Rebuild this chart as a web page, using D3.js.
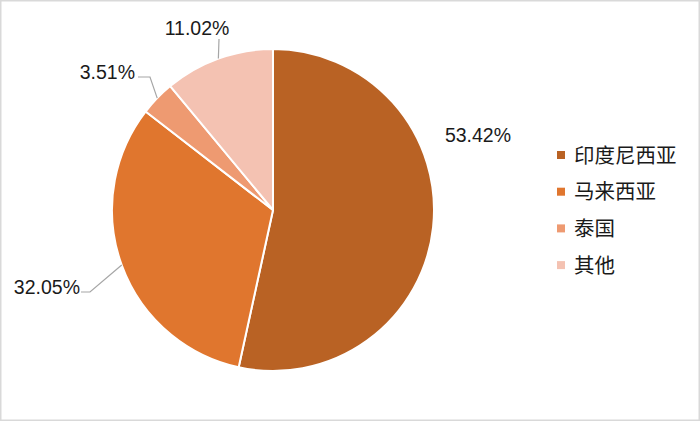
<!DOCTYPE html>
<html><head><meta charset="utf-8">
<script src="https://cdn.jsdelivr.net/npm/d3@7"></script>
<style>body{margin:0;background:#fff}svg{display:block}</style>
</head><body>
<svg id="c" width="700" height="421"></svg>
<script>
const categories = ["印度尼西亚", "马来西亚", "泰国", "其他"];
const values = [53.42, 32.05, 3.51, 11.02];
const labels = ["53.42%", "32.05%", "3.51%", "11.02%"];
const colors = ["#B96224", "#E0762E", "#EE9A71", "#F4C2B2"];

const svg = d3.select("#c");
svg.append("rect").attr("x",0.75).attr("y",0.75).attr("width",698.5).attr("height",419.5)
  .attr("fill","#fff").attr("stroke","#d9d9d9").attr("stroke-width",1.5);

const cx = 273, cy = 210, R = 161;
const g = svg.append("g").attr("transform",`translate(${cx},${cy})`);
const pie = d3.pie().sort(null).value(d=>d);
const arcs = pie(values);
const arc = d3.arc().innerRadius(0).outerRadius(R);
g.selectAll("path").data(arcs).enter().append("path")
  .attr("d",arc).attr("fill",(d,i)=>colors[i])
  .attr("stroke","#fff").attr("stroke-width",2).attr("stroke-linejoin","round");

// label layout (Excel best-fit positions): offsets relative to pie center
const labelLayout = [
  {tx: 205, ty: -68, anchor:"middle", leader:null},
  {tx: -193, ty: 84, anchor:"end", leader:{elbow:[-183, 82], end:[-192, 82]}},
  {tx: -138, ty: -131, anchor:"end", leader:{elbow:[-123, -133], end:[-135, -133]}},
  {tx: -76, ty: -175, anchor:"middle", leader:{elbow:[-54, -171], end:null}}
];
const fmtFont = "'Liberation Sans', Arial, sans-serif";
arcs.forEach((a,i)=>{
  const L = labelLayout[i];
  const mid = (a.startAngle+a.endAngle)/2;
  const ex = Math.sin(mid)*R, ey = -Math.cos(mid)*R;
  if (L.leader){
    const pts = [[ex,ey], L.leader.elbow];
    if (L.leader.end) pts.push(L.leader.end);
    g.append("path").attr("d", d3.line()(pts)).attr("fill","none")
      .attr("stroke","#a6a6a6").attr("stroke-width",1.2);
  }
  g.append("text").attr("x",L.tx).attr("y",L.ty).attr("text-anchor",L.anchor)
    .attr("font-family",fmtFont).attr("font-size",19.5).attr("fill","#1a1a1a")
    .text(labels[i]);
});

// legend
const lg = svg.append("g").attr("transform","translate(557,155)");
const step = 36.7;
categories.forEach((c,i)=>{
  lg.append("rect").attr("x",0).attr("y",i*step-4).attr("width",8).attr("height",8).attr("fill",colors[i]);
  lg.append("text").attr("x",17).attr("y",i*step+7.5)
    .attr("font-family","'Noto Sans CJK SC', sans-serif").attr("font-size",20.5).attr("fill","#1a1a1a")
    .text(c);
});
</script>
</body></html>
